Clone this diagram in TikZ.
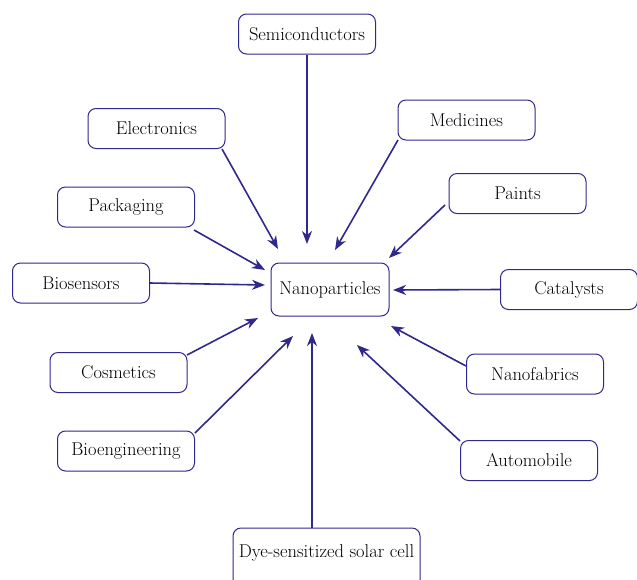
\documentclass[tikz,border=0pt]{standalone}
\usetikzlibrary{arrows.meta}
\definecolor{nb}{RGB}{48,40,140}
\begin{document}
\begin{tikzpicture}[x=1pt,y=-1pt,
  box/.style={draw=nb,line width=1pt,rounded corners=8pt,fill=white,minimum width=137pt,minimum height=40pt,inner sep=2pt,font=\fontsize{18.5}{21}\selectfont},
  arr/.style={draw=nb,line width=1.6pt,-{Stealth[length=13pt,width=10pt,inset=4pt]}}]
\useasboundingbox (0,0) rectangle (637,579);
\node[box] (semi) at (307,34) {Semiconductors};
\node[box] (elec) at (156.5,128.5) {Electronics};
\node[box] (med) at (466.5,120) {Medicines};
\node[box] (pack) at (126,207) {Packaging};
\node[box] (paint) at (517.5,193.5) {Paints};
\node[box] (bios) at (81,283) {Biosensors};
\node[box,minimum width=118pt,minimum height=53pt] (nano) at (330,289.5) {Nanoparticles};
\node[box] (cat) at (569,289.5) {Catalysts};
\node[box] (cos) at (118.5,372.5) {Cosmetics};
\node[box] (fab) at (535,374) {Nanofabrics};
\node[box] (bioe) at (126,451) {Bioengineering};
\node[box] (auto) at (529,460.5) {Automobile};
\node[box,minimum width=187pt,minimum height=60pt] (dye) at (326.5,558) {};
\node[font=\fontsize{18.5}{21}\selectfont] (dyet) at (326.5,553) {Dye-sensitized solar cell};
\coordinate (tS) at (307,244);
\coordinate (tE) at (278,249);
\coordinate (tM) at (335,250);
\coordinate (tPk) at (265,270);
\coordinate (tPa) at (389,258);
\coordinate (tB) at (265,285);
\coordinate (tC) at (393,290);
\coordinate (tCo) at (258,318);
\coordinate (tF) at (391,326);
\coordinate (tBe) at (293,336);
\coordinate (tA) at (357,345);
\coordinate (tD) at (312,333);
\draw[arr] (semi.south) -- (tS);
\draw[arr] (222,149) -- (tE);
\draw[arr] (398,140) -- (tM);
\draw[arr] (194,230) -- (tPk);
\draw[arr] (445,205) -- (tPa);
\draw[arr] (bios.east) -- (tB);
\draw[arr] (cat.west) -- (tC);
\draw[arr] (187,355) -- (tCo);
\draw[arr] (466,366) -- (tF);
\draw[arr] (195,433) -- (tBe);
\draw[arr] (460,441) -- (tA);
\draw[arr] (312,528) -- (tD);
\end{tikzpicture}
\end{document}
